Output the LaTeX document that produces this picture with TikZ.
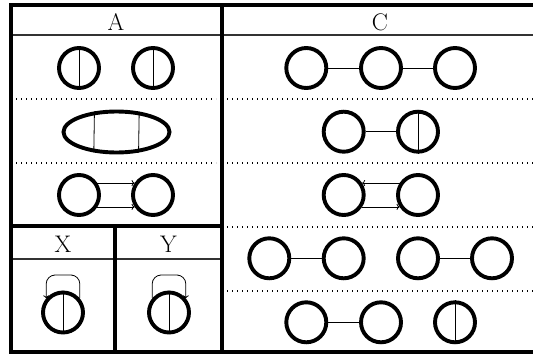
\documentclass[tikz,border=0pt]{standalone}
\usepackage{fontspec}
\usetikzlibrary{arrows.meta,shapes.geometric}
\newcommand{\hdfont}{\fontsize{24}{26}\selectfont}
\begin{document}
\begin{tikzpicture}[x=1pt,y=-1pt,
  frame/.style={line width=4pt},
  hline/.style={line width=1.2pt, black!80},
  sep/.style={line width=1.1pt, dash pattern=on 1.1pt off 3.9pt},
  ring/.style={circle, draw, line width=3.9pt, minimum size=40pt, inner sep=0pt},
  oval/.style={ellipse, draw, line width=3.9pt, minimum width=106pt, minimum height=41pt, inner sep=0pt},
  chord/.style={line width=0.8pt, black},
  arr/.style={chord, -{To[length=3pt,width=6pt]}},
  head/.style={anchor=base, inner sep=0pt}
]
\clip (0,0) rectangle (533,356);
% header lines and separators
\draw[hline] (11,35) -- (539,35);
\draw[hline] (11,259) -- (221.5,259);
\foreach \yy in {99,163} \draw[sep] (16,\yy) -- (216,\yy);
\foreach \yy in {99,163,227,291} \draw[sep] (227,\yy) -- (533,\yy);
% frame
\draw[frame] (11,5) rectangle (539,352);
\draw[frame] (221.5,5) -- (221.5,352);
\draw[frame] (11,226) -- (221.5,226);
\draw[frame] (115,226) -- (115,352);
% headers
\node[head] (hA) at (116,30) {\hdfont A};
\node[head] (hC) at (380,30) {\hdfont C};
\node[head] (hX) at (63,252) {\hdfont X};
\node[head] (hY) at (168.5,252) {\hdfont Y};
% A row 1
\node[ring] (a1) at (79,68) {};
\node[ring] (a2) at (153,68) {};
\draw[chord] (a1.north) -- (a1.south);
\draw[chord] (a2.north) -- (a2.south);
% A row 2
\node[oval] (e) at (116.5,132) {};
\draw[chord] (e.137.7) -- (e.222.3);
\draw[chord] (e.42.3) -- (e.317.7);
% A row 3
\node[ring] (a3) at (79,195) {};
\node[ring] (a4) at (153,195) {};
\draw[arr] (a3.33) -- (a4.147);
\draw[arr] (a3.-33) -- (a4.-147);
% X
\node[ring] (x) at (63,312.5) {};
\draw[arr] (x.south) -- (x.north);
\draw[arr, rounded corners=9pt] (x.40) |- (63,275) -| (x.140);
% Y
\node[ring] (y) at (169,312.5) {};
\draw[arr] (y.south) -- (y.north);
\draw[arr, rounded corners=9pt] (y.140) |- (169,275) -| (y.40);
% C row 1
\node[ring] (c11) at (306.3,68) {};
\node[ring] (c12) at (381,68) {};
\node[ring] (c13) at (455,68) {};
\draw[chord] (c11) -- (c12);
\draw[chord] (c12) -- (c13);
% C row 2
\node[ring] (c21) at (343.7,131.7) {};
\node[ring] (c22) at (418,131.7) {};
\draw[chord] (c21) -- (c22);
\draw[chord] (c22.north) -- (c22.south);
% C row 3
\node[ring] (c31) at (343.7,195) {};
\node[ring] (c32) at (418,195) {};
\draw[arr] (c32.147) -- (c31.33);
\draw[arr] (c31.-33) -- (c32.-147);
% C row 4
\node[ring] (c41) at (269.3,258.3) {};
\node[ring] (c42) at (343.7,258.3) {};
\node[ring] (c43) at (418,258.3) {};
\node[ring] (c44) at (492,258.3) {};
\draw[chord] (c41) -- (c42);
\draw[chord] (c43) -- (c44);
% C row 5
\node[ring] (c51) at (306.3,322.3) {};
\node[ring] (c52) at (381,322.3) {};
\node[ring] (c53) at (455,322.3) {};
\draw[chord] (c51) -- (c52);
\draw[chord] (c53.north) -- (c53.south);
\end{tikzpicture}
\end{document}
